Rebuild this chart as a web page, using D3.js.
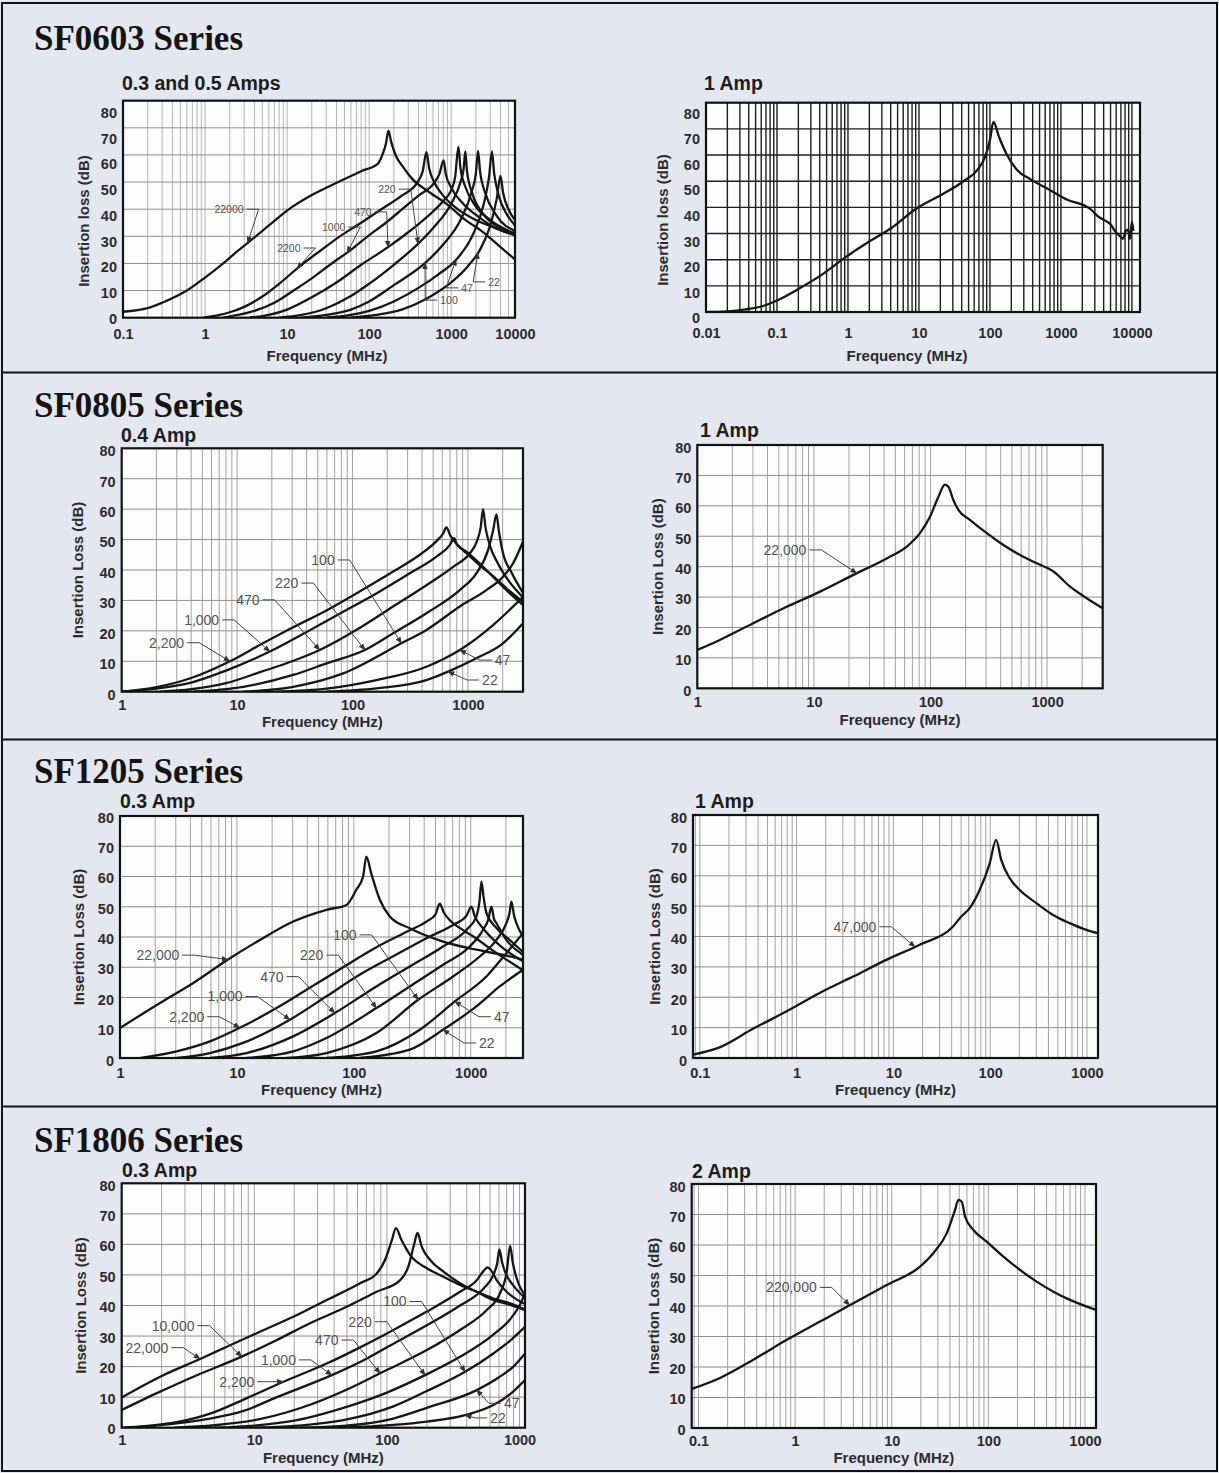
<!DOCTYPE html>
<html>
<head>
<meta charset="utf-8">
<title>SF series insertion loss</title>
<script src="https://d3js.org/d3.v7.min.js"></script>
<style>
  body { margin: 0; background: #e4e7ef; }
  svg { display: block; }
  .title { font-family: "Liberation Serif", "DejaVu Serif", serif; font-weight: bold; font-size: 35px; fill: #141414; }
  .sub { font-family: "Liberation Sans", Arial, sans-serif; font-weight: bold; font-size: 19.5px; fill: #1c1c1c; }
  .tick text { font-family: "Liberation Sans", Arial, sans-serif; font-weight: bold; font-size: 14.5px; fill: #2b2b2b; }
  .axis-title { font-family: "Liberation Sans", Arial, sans-serif; font-weight: bold; font-size: 15px; fill: #2b2b2b; }
  .note { font-family: "Liberation Sans", Arial, sans-serif; fill: #555; }
  .curve { fill: none; stroke: #161616; stroke-width: 2.3; stroke-linejoin: round; }
</style>
</head>
<body>
<svg id="chart" width="1219" height="1473"></svg>
<script>
// ---- tick labels ----
const ticksY = [0, 10, 20, 30, 40, 50, 60, 70, 80];
const ticks0603a = [0.1, 1, 10, 100, 1000, 10000];
const ticks0603b = [0.01, 0.1, 1, 10, 100, 1000, 10000];
const ticksDec3 = [1, 10, 100, 1000];
const ticksDec4 = [0.1, 1, 10, 100, 1000];

// ---- SF0603, 0.3 and 0.5 Amps  [MHz, dB] ----
const a0603_22000 = [[0.1,2.2],[0.2,3.5],[0.3,5.5],[0.6,10],[1,14.8],[1.74,20.5],[2.5,24.6],[4.15,30],[6,34],[10,39.5],[20,45.2],[42,50],[80,54],[128,56.8],[145,60],[160,64],[172,69],[185,65],[210,60],[260,55.5],[339,51],[500,47],[891,41.8],[1500,36],[2336,32],[4000,26],[6000,21.5]];
const a0603_2200 = [[0.95,0],[1.5,1],[2,2],[3,4],[5,7.8],[8,12.5],[15,19.5],[25,24.5],[44,30],[80,35],[141,40],[250,45],[390,50],[450,54],[500,61],[540,55],[620,50],[800,45],[1200,40],[2000,36],[3500,33],[6000,30.5]];
const a0603_1000 = [[1.65,0],[2.5,1],[4,2.5],[7,5.5],[12,10],[20,14.5],[35,20],[60,25],[96,30],[160,35],[253,40],[400,45],[630,50],[720,53],[809,58],[860,53],[1000,48],[1400,42],[2200,37],[3500,33],[6000,30.5]];
const a0603_470 = [[3.5,0],[6,1],[10,3],[20,7.5],[40,13],[80,19.5],[170,26],[300,31.5],[500,37],[800,43],[1000,47],[1120,52],[1225,63],[1300,55],[1500,48],[2000,41],[3000,36],[6000,31]];
const a0603_220 = [[8,0],[15,1],[30,3.5],[60,8],[100,12.5],[200,19.5],[372,26.5],[600,33],[1000,42],[1300,50],[1420,55],[1486,61.3],[1560,54],[1800,46],[2500,38],[4000,33],[6000,31]];
const a0603_100 = [[15,0],[30,1],[60,3],[100,6],[200,12],[475,20],[800,27],[1300,36],[1800,47],[2000,53],[2127,61.5],[2250,54],[2600,46],[3500,38],[6000,32]];
const a0603_47 = [[30,0],[60,1],[100,2.5],[200,6],[400,11],[700,16],[1120,21],[1800,30],[2500,42],[2900,52],[3135,61.3],[3350,53],[3800,45],[4800,38],[6000,34]];
const a0603_22 = [[60,0],[120,1],[250,3],[500,7],[1000,13],[1600,19],[2240,25],[3000,34],[3600,44],[3990,52.3],[4300,46],[5000,40],[6000,36]];

// ---- SF0603, 1 Amp ----
const b0603 = [[0.0106,0],[0.02,0.25],[0.036,1],[0.064,2.3],[0.1,4.4],[0.2,8.8],[0.41,13.9],[0.92,20.9],[2.07,27.2],[4.14,32.2],[8.8,39.2],[21,44.9],[42,49.9],[67,54.4],[84,58.8],[100,65.7],[112,72.7],[134,67],[169,60.7],[239,54.4],[379,50.6],[677,46.8],[1209,43],[2560,39.5],[3540,36],[4170,35],[5000,33.5],[5760,31],[6760,29],[7460,28],[8200,31],[8790,31.5],[9400,28],[10000,34.4],[10500,31]];

// ---- SF0805, 0.4 Amp ----
const a0805_2200 = [[1,0],[2,1.5],[4,4.5],[8.67,10],[16,15.5],[30,21],[60,26.8],[116,33],[225,39.5],[383,45],[534,49.5],[610,52],[651,54],[700,51.5],[800,48.5],[971,45.5],[1260,41.6],[1652,38],[2155,34],[3000,29.5]];
const a0805_1000 = [[1,0],[2,1],[4,3],[8.1,7],[19.2,13.2],[43,20.3],[83,26.3],[161,32.3],[314,38.9],[534,44.4],[696,48.2],[760,50.5],[800,48.5],[971,46],[1445,40],[2155,33.4],[3000,28.5]];
const a0805_470 = [[2.15,0],[4,0.8],[8,2.8],[16,6.5],[30,10],[52,13.7],[116,21],[225,28],[437,35],[745,41],[1038,45.5],[1183,49],[1290,54],[1352,60],[1420,54],[1550,48],[1800,42.5],[2300,36],[3000,31]];
const a0805_220 = [[4.2,0],[11.3,1.6],[30.6,5.5],[59.6,9.3],[128,13.7],[225,19.2],[437,25.8],[850,33.4],[1183,38.9],[1496,46.6],[1652,53],[1766,58.3],[1850,53],[2000,46],[2400,39],[3000,32.5]];
const a0805_100 = [[11.3,0],[30.6,1.6],[83,6],[265,15.9],[437,20.3],[850,28],[1445,33.4],[2015,37.8],[2460,42.2],[3000,49.3]];
const a0805_47 = [[22,0],[59.6,1],[161,3.8],[437,8.2],[850,13.7],[1652,21.9],[3000,31.2]];
const a0805_22 = [[59.6,0],[161,1.1],[437,3.8],[673,6.6],[1183,11],[2015,15.9],[3000,22.5]];

// ---- SF0805, 1 Amp ----
const b0805 = [[1,12.6],[1.56,15.9],[3.02,21.4],[5.85,26.8],[11.3,31.8],[21.8,37.3],[42.1,42.7],[62.6,46.6],[81.3,51],[99,56.4],[117,63],[133,67],[142.5,66.3],[157,61.9],[174,58.6],[219,55.3],[304,51],[422,47.1],[587,43.8],[815,41.1],[1134,38.4],[1577,33.4],[2190,29.6],[3000,26.3]];

// ---- SF1205, 0.3 Amp ----
const a1205_22000 = [[1,9.9],[2.2,18.2],[4.24,24.8],[8.2,32.3],[15.7,39],[30.3,45.1],[58.4,49],[86.5,50.6],[105,55.6],[120,60],[128,66.6],[141,61],[167,52.3],[203,46.8],[301,42.9],[580,38.5],[1117,35.8],[2155,33.6],[2800,32.5]];
const a1205_2200 = [[1.5,0],[3.05,2.2],[5.88,5.5],[10.6,10],[21.8,16.5],[42,23.2],[81,30],[156,36.6],[301,42.2],[418,45.1],[500,47.5],[543,51],[590,48],[684,45],[805,43],[1117,39.5],[1550,35.5],[2800,29]];
const a1205_1000 = [[3.05,0],[5.88,1.65],[11.3,5],[28.4,12.65],[58.4,20.4],[112,27.5],[217,33.6],[418,39.6],[706,44],[918,47],[1013,50],[1080,47],[1300,42.5],[1800,37],[2800,32]];
const a1205_470 = [[5.88,0],[12.1,1.65],[30.3,7.15],[68.8,14.85],[156,23.65],[301,30.25],[580,36.85],[918,42.35],[1117,46.75],[1190,52],[1234,58.3],[1290,53],[1362,48],[1660,43],[2155,39],[2800,35]];
const a1205_220 = [[12.1,0],[30.3,2.2],[58.4,6.6],[156,16.5],[301,23.65],[580,30.8],[980,36.85],[1274,42.35],[1420,46],[1502,50],[1580,46],[1660,44.55],[2018,39.05],[2800,34.1]];
const a1205_100 = [[26.6,0],[58.4,1.65],[156,8.25],[355,19.25],[706,26.95],[1194,33.55],[1660,39.05],[2018,44.55],[2150,48],[2230,51.7],[2350,47],[2457,44.55],[2800,40.15]];
const a1205_47 = [[58.4,0],[156,2.2],[367,9.35],[731,18.7],[1362,26.95],[2018,34.65],[2800,41.25]];
const a1205_22 = [[112,0],[301,2.75],[580,9.35],[1117,17.05],[1770,23.65],[2800,29.15]];

// ---- SF1205, 1 Amp ----
const b1205 = [[0.085,1.1],[0.16,3.5],[0.354,9.6],[0.78,15.3],[1.73,21.4],[3.83,26.8],[8.45,32.3],[18.7,37.3],[41.3,43.3],[50,46.5],[62,49.5],[77.8,55.3],[98.9,64.1],[115,71.8],[130,65.2],[159,59.2],[202,55.3],[300,51],[446,47.1],[663,44.4],[986,42.2],[1300,41.1]];

// ---- SF1806, 0.3 Amp ----
const a1806_22000 = [[1,9.9],[1.95,16.7],[3.9,22.5],[6.2,26.5],[11,31.4],[19.7,36.3],[35.2,41.8],[62.8,47.3],[83.8,50.5],[96.8,54.9],[109,61.4],[117,65.3],[129,61.4],[150,56.5],[200,52.2],[267,49.4],[356,46.7],[476,44.5],[635,42.3],[849,40.7],[1100,38.7]];
const a1806_10000 = [[1,5.8],[1.95,11.8],[3.47,16.7],[8.04,23.25],[14.8,28.7],[26.3,34.2],[47,39.1],[83.8,44.5],[126,48.3],[145,52.7],[160,59.8],[170,63.8],[183,59.3],[212,54.9],[267,51.1],[356,47.3],[476,44.5],[635,41.8],[849,40.2],[1100,38.5]];
const a1806_2200 = [[1,0],[1.5,0.5],[2.6,1.8],[4.64,4.6],[8.3,9.2],[16.6,15.06],[35.2,21],[62.8,26.3],[112,32],[200,38],[356,44.5],[476,48.3],[540,51.5],[576,52.5],[610,51.5],[680,48],[800,44.5],[950,42],[1100,40.5]];
const a1806_1000 = [[1.22,0],[2.6,1.4],[4.64,3],[8.3,5.5],[14.8,10],[38.4,17.2],[62.8,21.5],[112,27.5],[200,33.5],[356,40],[534,45.5],[635,50],[680,54],[705,58.4],[740,54],[778,51],[900,46.5],[1100,42.5]];
const a1806_470 = [[2.5,0],[5,0.8],[11,2.8],[26.3,7.5],[50,12.5],[88.7,17.8],[200,25.4],[356,32],[566,38.5],[713,44],[801,51],[849,59.5],[890,54],[950,49],[1010,46],[1100,43.5]];
const a1806_220 = [[5,0],[10,0.7],[20,2.3],[47,6.5],[100,11.5],[194,17.2],[356,23.2],[635,30.5],[850,35.5],[1000,40],[1100,44]];
const a1806_100 = [[10,0],[20,0.6],[47,2.5],[112,7],[200,12],[389,18.3],[635,24.3],[850,28.5],[1100,33]];
const a1806_47 = [[22,0],[47,0.6],[112,3],[200,6.5],[476,12.3],[700,16.5],[900,20],[1100,24.3]];
const a1806_22 = [[45,0],[112,0.9],[200,2],[389,4.1],[635,7.4],[850,11],[1100,15.6]];

// ---- SF1806, 2 Amp ----
const b1806 = [[0.085,12.8],[0.167,16.4],[0.37,22.4],[0.82,28.9],[1.81,34.9],[4,40.9],[8.87,46.9],[19.6,52.9],[26.9,57.3],[37,63.8],[45.2,71.5],[48.9,74.8],[53,74.2],[57.4,69.3],[70,64.9],[96,61.1],[143,56.2],[213,51.8],[316,48],[471,44.7],[700,42],[1300,38.7]];

// ---- curve labels: text, label [MHz, dB], arrow target MHz, curve, side of label ----
const notes0603a = [
  ["22000", 1.96, 40, 3.3, a0603_22000, "L"],
  ["2200", 10.5, 25.7, 13.2, a0603_2200, "L"],
  ["1000", 37, 33.4, 54, a0603_1000, "L"],
  ["470", 84, 39, 170, a0603_470, "L"],
  ["220", 165, 47.4, 394, a0603_220, "L"],
  ["100", 942, 6.5, 480, a0603_100, "R"],
  ["47", 1560, 11, 1150, a0603_47, "R"],
  ["22", 3330, 13.2, 2120, a0603_22, "R"]
];
const notes0805a = [
  ["2,200", 2.45, 16.1, 8.67, a0805_2200, "L"],
  ["1,000", 4.93, 23.6, 19.2, a0805_1000, "L"],
  ["470", 12.4, 30.2, 52, a0805_470, "L"],
  ["220", 26.9, 35.7, 128, a0805_220, "L"],
  ["100", 55.5, 43.3, 265, a0805_100, "L"],
  ["47", 1995, 10.4, 850, a0805_47, "R"],
  ["22", 1550, 3.85, 673, a0805_22, "R"]
];
const notes0805b = [["22,000", 5.65, 45.5, 23.3, b0805, "L"]];
const notes1205a = [
  ["22,000", 2.11, 34, 8.4, a1205_22000, "L"],
  ["2,200", 3.72, 13.65, 10.6, a1205_2200, "L"],
  ["1,000", 7.91, 20.3, 28.4, a1205_1000, "L"],
  ["470", 19.9, 26.9, 68.8, a1205_470, "L"],
  ["220", 43.6, 34, 156, a1205_220, "L"],
  ["100", 84, 40.7, 355, a1205_100, "L"],
  ["47", 1841, 13.65, 731, a1205_47, "R"],
  ["22", 1371, 4.96, 580, a1205_22, "R"]
];
const notes1205b = [["47,000", 4.01, 43.2, 16.7, b1205, "L"]];
const notes1806a = [
  ["10,000", 2.44, 33.4, 8.04, a1806_10000, "L"],
  ["22,000", 1.55, 26.2, 3.9, a1806_22000, "L"],
  ["1,000", 15.2, 22.2, 38.4, a1806_1000, "L"],
  ["2,200", 7.37, 15.06, 16.6, a1806_2200, "L"],
  ["470", 35.2, 28.7, 88.7, a1806_470, "L"],
  ["220", 62.7, 34.7, 194, a1806_220, "L"],
  ["100", 115, 41.3, 389, a1806_100, "L"],
  ["47", 873, 8, 476, a1806_47, "R"],
  ["22", 689, 3.2, 389, a1806_22, "R"]
];
const notes1806b = [["220,000", 0.915, 46.1, 3.66, b1806, "L"]];

const sections = [
  { name: "SF0603 Series", base: 50 },
  { name: "SF0805 Series", base: 417 },
  { name: "SF1205 Series", base: 783 },
  { name: "SF1806 Series", base: 1152 }
];

// layout of each plot (pixels)
const panels = [
  { sub: "0.3 and 0.5 Amps", sx: 122, sy: 83.5, x0: 123, x1: 515, y0: 100.7, y1: 317.7, dom: [0.1, 6000], xt: ticks0603a,
    lab: [318, 112.5], xly: 334, xtx: 327, xty: 356, ytx: 84, yty: 221, ytitle: "Insertion loss (dB)", dark: false,
    curves: [a0603_22000, a0603_2200, a0603_1000, a0603_470, a0603_220, a0603_100, a0603_47, a0603_22], notes: notes0603a, ns: 10.5 },
  { sub: "1 Amp", sx: 704, sy: 83, x0: 706, x1: 1140, y0: 102.7, y1: 312, dom: [0.01, 13000], xt: ticks0603b,
    lab: [317.7, 113], xly: 333, xtx: 907, xty: 356, ytx: 663, yty: 220, ytitle: "Insertion loss (dB)", dark: true,
    curves: [b0603], notes: [], ns: 13 },
  { sub: "0.4 Amp", sx: 121, sy: 435, x0: 121.7, x1: 523, y0: 448.3, y1: 691.7, dom: [1, 3000], xt: ticksDec3,
    lab: [694, 450.5], xly: 705, xty: 721.5, ytx: 78, ytitle: "Insertion Loss (dB)", dark: false,
    curves: [a0805_2200, a0805_1000, a0805_470, a0805_220, a0805_100, a0805_47, a0805_22], notes: notes0805a, ns: 14 },
  { sub: "1 Amp", sx: 700, sy: 430, x0: 697.3, x1: 1102.7, y0: 445, y1: 688.3, dom: [1, 3000], xt: ticksDec3,
    lab: [690, 447], xly: 701.5, xty: 720, ytx: 658, ytitle: "Insertion Loss (dB)", dark: false,
    curves: [b0805], notes: notes0805b, ns: 14 },
  { sub: "0.3 Amp", sx: 120, sy: 801.5, x0: 120, x1: 523, y0: 816, y1: 1058, dom: [1, 2800], xt: ticksDec3,
    lab: [1060, 817], xly: 1073, xty: 1090, ytx: 79, ytitle: "Insertion Loss (dB)", dark: false,
    curves: [a1205_22000, a1205_2200, a1205_1000, a1205_470, a1205_220, a1205_100, a1205_47, a1205_22], notes: notes1205a, ns: 14 },
  { sub: "1 Amp", sx: 695, sy: 801.5, x0: 693, x1: 1098, y0: 815, y1: 1058, dom: [0.085, 1300], xt: ticksDec4,
    lab: [1060, 817], xly: 1072.5, xty: 1089.5, ytx: 655, ytitle: "Insertion Loss (dB)", dark: false,
    curves: [b1205], notes: notes1205b, ns: 14 },
  { sub: "0.3 Amp", sx: 122, sy: 1170, x0: 121.7, x1: 525, y0: 1183.3, y1: 1427.7, dom: [1, 1100], xt: ticksDec3,
    lab: [1428.5, 1185], xly: 1440, xty: 1457.5, ytx: 81, ytitle: "Insertion Loss (dB)", dark: false,
    curves: [a1806_22000, a1806_10000, a1806_2200, a1806_1000, a1806_470, a1806_220, a1806_100, a1806_47, a1806_22], notes: notes1806a, ns: 14 },
  { sub: "2 Amp", sx: 692, sy: 1171, x0: 691.7, x1: 1096, y0: 1184, y1: 1428, dom: [0.085, 1300], xt: ticksDec4,
    lab: [1429, 1186], xly: 1441, xty: 1458, ytx: 654, ytitle: "Insertion Loss (dB)", dark: false,
    curves: [b1806], notes: notes1806b, ns: 14 }
];

const svg = d3.select("#chart");
svg.append("rect").attr("width", 1219).attr("height", 1473).attr("fill", "#e4e7ef");

const defs = svg.append("defs");
defs.append("marker").attr("id", "arrow")
    .attr("viewBox", "0 0 10 10").attr("refX", 9).attr("refY", 5)
    .attr("markerWidth", 7).attr("markerHeight", 7).attr("markerUnits", "userSpaceOnUse")
    .attr("orient", "auto")
  .append("path").attr("d", "M0,1 L10,5 L0,9 z").attr("fill", "#333");

// section frames and titles
svg.append("rect").attr("x", 2).attr("y", 3).attr("width", 1215).attr("height", 1468)
   .attr("fill", "none").attr("stroke", "#111").attr("stroke-width", 2);
[372.5, 739.5, 1106.5].forEach(yy => {
  svg.append("line").attr("x1", 2).attr("x2", 1217).attr("y1", yy).attr("y2", yy)
     .attr("stroke", "#111").attr("stroke-width", 2);
});
sections.forEach(s => {
  svg.append("text").attr("class", "title").attr("x", 34).attr("y", s.base).text(s.name);
});

// value of a traced curve at frequency f (linear in log f)
function valueAt(pts, f) {
  const lf = Math.log10(f);
  for (let i = 1; i < pts.length; i++) {
    const a = Math.log10(pts[i - 1][0]), b = Math.log10(pts[i][0]);
    if (lf <= b) {
      const t = Math.max(0, (lf - a) / (b - a));
      return pts[i - 1][1] + t * (pts[i][1] - pts[i - 1][1]);
    }
  }
  return pts[pts.length - 1][1];
}

panels.forEach((p, idx) => {
  const x = d3.scaleLog().domain(p.dom).range([p.x0, p.x1]).clamp(true);
  const y = d3.scaleLinear().domain([0, 80]).range([p.y1, p.y0]);
  const yLab = d3.scaleLinear().domain([0, 80]).range(p.lab);
  const g = svg.append("g");

  g.append("rect").attr("x", p.x0).attr("y", p.y0).attr("width", p.x1 - p.x0).attr("height", p.y1 - p.y0)
   .attr("fill", "#fdfdfd");

  // log grid 1..9 per decade
  const vlines = [];
  const e0 = Math.floor(Math.log10(p.dom[0])), e1 = Math.ceil(Math.log10(p.dom[1]));
  for (let e = e0; e <= e1; e++) {
    for (let k = 1; k < 10; k++) {
      const v = k * Math.pow(10, e);
      if (v > p.dom[0] * 1.001 && v < p.dom[1] * 0.999) vlines.push(v);
    }
  }
  const vCol = p.dark ? "#1e1e1e" : (idx === 0 ? "#b4b4b4" : "#a3a3a3");
  const hCol = p.dark ? "#1e1e1e" : "#8e8e8e";
  const gw = p.dark ? 1.4 : 1;
  g.append("g").selectAll("line").data(vlines).join("line")
   .attr("x1", d => x(d)).attr("x2", d => x(d)).attr("y1", p.y0).attr("y2", p.y1)
   .attr("stroke", vCol).attr("stroke-width", gw);
  g.append("g").selectAll("line").data(ticksY.slice(1, -1)).join("line")
   .attr("x1", p.x0).attr("x2", p.x1).attr("y1", d => y(d)).attr("y2", d => y(d))
   .attr("stroke", hCol).attr("stroke-width", gw);

  // curves
  const clipId = "clip" + idx;
  defs.append("clipPath").attr("id", clipId).append("rect")
      .attr("x", p.x0).attr("y", p.y0 - 2).attr("width", p.x1 - p.x0).attr("height", p.y1 - p.y0 + 2);
  const line = d3.line().x(d => x(d[0])).y(d => y(d[1])).curve(d3.curveMonotoneX);
  g.append("g").attr("clip-path", `url(#${clipId})`).selectAll("path").data(p.curves).join("path")
   .attr("class", "curve").attr("d", line)
   .attr("stroke", p.dark ? "#3c3c3c" : null).attr("stroke-width", p.dark ? 3.2 : null);

  // curve labels with leader arrows
  p.notes.forEach(n => {
    const [txt, lf, ldb, tf, pts, side] = n;
    const tx = x(lf), ty = y(ldb);
    const t = g.append("text").attr("class", "note").attr("x", tx).attr("y", ty)
               .attr("dy", "0.35em").attr("text-anchor", "middle").attr("font-size", p.ns).text(txt);
    const w = t.node().getComputedTextLength();
    const tip = [x(tf), y(valueAt(pts, tf))];
    const sx = side === "L" ? tx + w / 2 + 3 : tx - w / 2 - 3;
    const ex = side === "L" ? sx + 12 : sx - 12;
    g.append("polyline").attr("points", [[sx, ty], [ex, ty], tip].map(q => q.join(",")).join(" "))
     .attr("fill", "none").attr("stroke", "#444").attr("stroke-width", 1)
     .attr("marker-end", "url(#arrow)");
  });

  // frame
  g.append("rect").attr("x", p.x0).attr("y", p.y0).attr("width", p.x1 - p.x0).attr("height", p.y1 - p.y0)
   .attr("fill", "none").attr("stroke", "#111").attr("stroke-width", 2.2);

  // axes (labels only)
  const ax = g.append("g").attr("transform", `translate(0,${p.xly})`)
    .call(d3.axisBottom(x).tickValues(p.xt).tickSize(0).tickPadding(0).tickFormat(d => String(d)));
  ax.select(".domain").remove();
  ax.selectAll("text").attr("dy", "0.35em").attr("y", 0);
  const ay = g.append("g").attr("transform", `translate(${p.x0 - 6},0)`)
    .call(d3.axisLeft(yLab).tickValues(ticksY).tickSize(0).tickPadding(0));
  ay.select(".domain").remove();
  ay.selectAll("text").attr("dy", "0.35em");

  g.append("text").attr("class", "axis-title").attr("text-anchor", "middle")
   .attr("x", p.xtx || (p.x0 + p.x1) / 2).attr("y", p.xty).attr("dy", "0.35em").text("Frequency (MHz)");
  const yc = p.yty || (p.y0 + p.y1) / 2;
  g.append("text").attr("class", "axis-title").attr("text-anchor", "middle")
   .attr("transform", `translate(${p.ytx},${yc}) rotate(-90)`).attr("dy", "0.35em").text(p.ytitle);

  g.append("text").attr("class", "sub").attr("x", p.sx).attr("y", p.sy).attr("dy", "0.35em").text(p.sub);
});
</script>
</body>
</html>
